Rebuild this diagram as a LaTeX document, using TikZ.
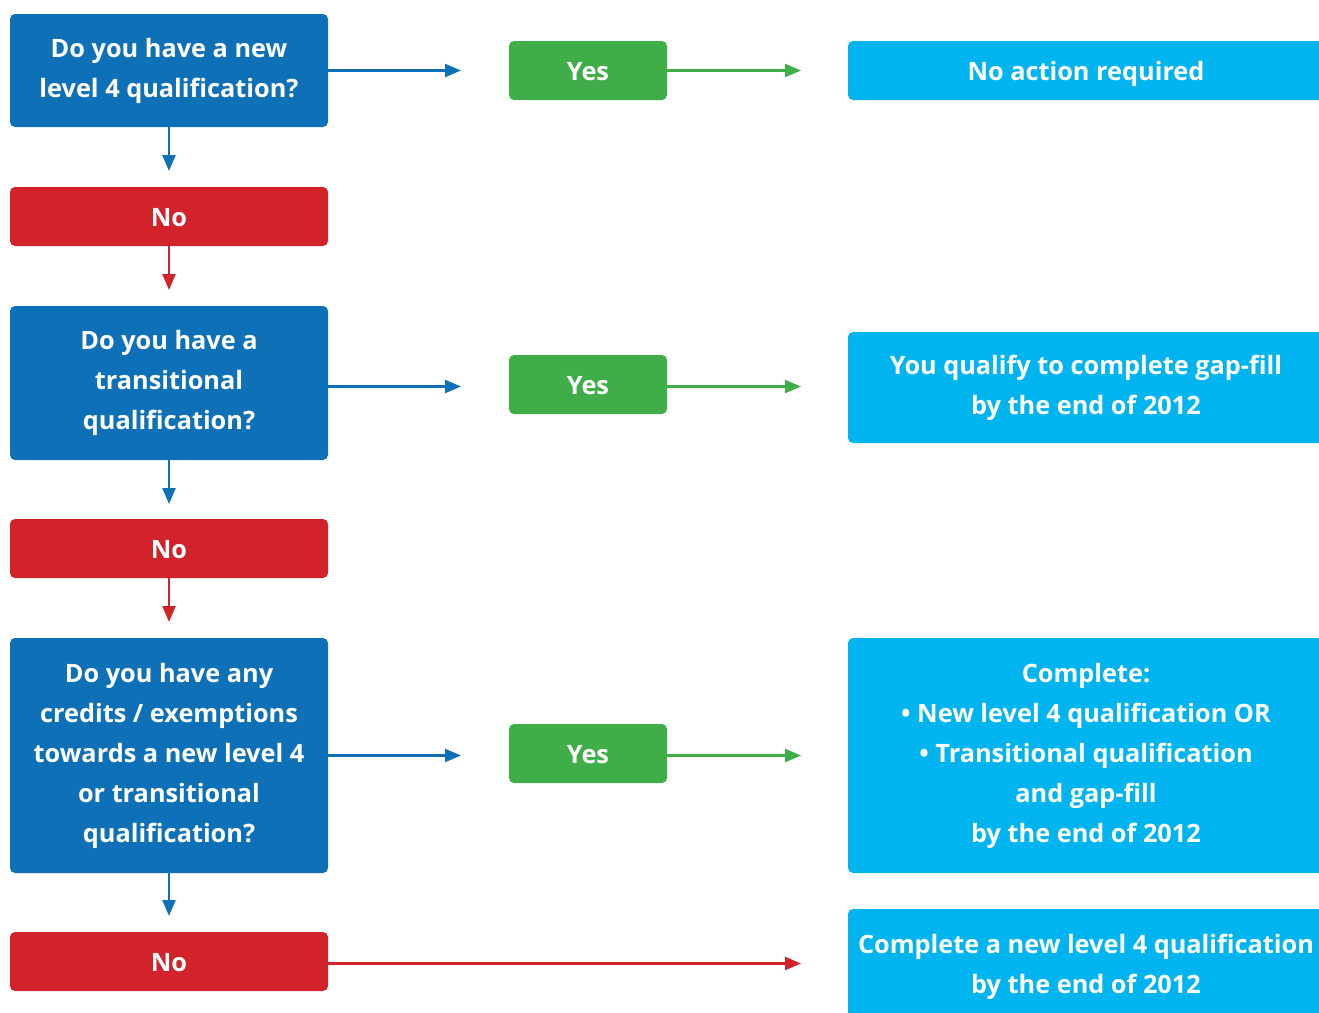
\documentclass[tikz,border=0pt]{standalone}
\usepackage{fontspec}
\setmainfont{Open Sans}
\usetikzlibrary{arrows.meta}
\definecolor{qblue}{HTML}{0E71B8}
\definecolor{nred}{HTML}{D2232A}
\definecolor{ygreen}{HTML}{3FAE49}
\definecolor{acyan}{HTML}{00B5EF}
\tikzset{
  box/.style={rounded corners=5pt, text=white, align=center, inner sep=0pt,
    font=\bfseries\fontsize{25.3}{40}\selectfont},
  oneline/.style={text height=20pt, text depth=0pt},
  qbox/.style={box, fill=qblue, minimum width=318pt},
  nbox/.style={box, oneline, fill=nred, minimum width=318pt, minimum height=59pt},
  ybox/.style={box, oneline, fill=ygreen, minimum width=158pt, minimum height=59pt},
  abox/.style={box, fill=acyan, minimum width=476pt},
  conn/.style={line width=2.3pt, -{Triangle[length=16pt,width=13pt]}},
}
\begin{document}
\begin{tikzpicture}[x=1pt,y=-1pt]
\useasboundingbox (0,0) rectangle (1319,1012);
\clip (0,0) rectangle (1319,1012);
% left column
\node[qbox, minimum height=113pt] (q1) at (169,70.5) {Do you have a new\\level 4 qualification?};
\node[nbox] (n1) at (169,216.5) {No};
\node[qbox, minimum height=154pt] (q2) at (169,383) {Do you have a\\transitional\\qualification?};
\node[nbox] (n2) at (169,548.5) {No};
\node[qbox, minimum height=235pt] (q3) at (169,755.5) {Do you have any\\credits / exemptions\\towards a new level 4\\or transitional\\qualification?};
\node[nbox] (n3) at (169,961.5) {No};
% yes column
\node[ybox] (y1) at (588,70.5) {Yes};
\node[ybox] (y2) at (588,384.5) {Yes};
\node[ybox] (y3) at (588,753.5) {Yes};
% answer column
\node[abox, oneline, minimum height=59pt] (a1) at (1086,70.5) {No action required};
\node[abox, minimum height=111pt] (a2) at (1086,387.5) {You qualify to complete gap-fill\\by the end of 2012};
\node[abox, minimum height=235pt] (a3) at (1086,755.5) {Complete:\\• New level 4 qualification OR\\• Transitional qualification\\and gap-fill\\by the end of 2012};
\node[abox, minimum height=116pt] (a4) at (1086,967) {Complete a new level 4 qualification\\by the end of 2012};
% free ends
\coordinate (e1) at (461,70.5);
\coordinate (e2) at (461,386.5);
\coordinate (e3) at (461,755.5);
\coordinate (f1) at (801,70.5);
\coordinate (f2) at (801,386.5);
\coordinate (f3) at (801,755.5);
\coordinate (f4) at (801,963.5);
\coordinate (d1) at (169,171);
\coordinate (d2) at (169,290);
\coordinate (d3) at (169,504);
\coordinate (d4) at (169,622);
\coordinate (d5) at (169,916);
% connectors
\draw[conn, qblue] (q1.east |- e1) -- (e1);
\draw[conn, qblue] (q2.east |- e2) -- (e2);
\draw[conn, qblue] (q3.east |- e3) -- (e3);
\draw[conn, ygreen] (y1.east |- f1) -- (f1);
\draw[conn, ygreen] (y2.east |- f2) -- (f2);
\draw[conn, ygreen] (y3.east |- f3) -- (f3);
\draw[conn, nred] (n3.east |- f4) -- (f4);
\draw[conn, qblue] (q1.south) -- (d1);
\draw[conn, nred] (n1.south) -- (d2);
\draw[conn, qblue] (q2.south) -- (d3);
\draw[conn, nred] (n2.south) -- (d4);
\draw[conn, qblue] (q3.south) -- (d5);
\end{tikzpicture}
\end{document}
